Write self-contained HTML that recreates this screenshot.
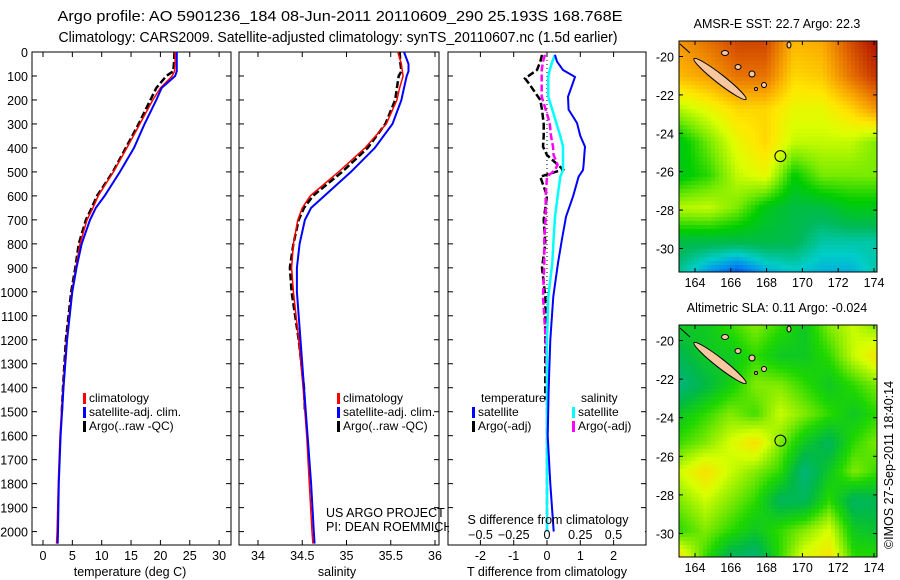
<!DOCTYPE html>
<html><head><meta charset="utf-8"><style>
html,body{margin:0;padding:0;background:#fff;}
svg{display:block;font-family:"Liberation Sans",sans-serif;}
</style></head><body>
<svg id="fig" width="900" height="580" viewBox="0 0 900 580" xmlns="http://www.w3.org/2000/svg">
<text x="340" y="21" font-size="15" text-anchor="middle" textLength="565" lengthAdjust="spacingAndGlyphs">Argo profile: AO 5901236_184 08-Jun-2011 20110609_290 25.193S 168.768E</text>
<text x="338" y="42" font-size="14.5" text-anchor="middle" textLength="559" lengthAdjust="spacingAndGlyphs">Climatology: CARS2009. Satellite-adjusted climatology: synTS_20110607.nc (1.5d earlier)</text>
<g id="p1"></g>
<g id="p2"></g>
<g id="p3"></g>
<g id="m1"></g>
<g id="m2"></g>
<text transform="translate(893,465) rotate(-90)" font-size="12.5" text-anchor="middle">©IMOS 27-Sep-2011 18:40:14</text>
</svg>
<script>
// ---- data ----
const depthTicks=[0,100,200,300,400,500,600,700,800,900,1000,1100,1200,1300,1400,1500,1600,1700,1800,1900,2000];
const tempTicks=[0,5,10,15,20,25,30];
const salTicks=[34,34.5,35,35.5,36];
const sTickLabels=[-0.5,-0.25,0,0.25,0.5];
const tTickLabels=[-2,-1,0,1,2];
const depthClim=[0,50,80,100,150,200,300,400,500,600,650,700,800,900,1000,1200,1400,1600,1800,2000,2050];
const tempClim=[22.5,22.5,22.4,22.0,20.0,18.7,16.5,14.3,12.0,9.4,8.5,7.5,6.3,5.6,4.9,4.0,3.4,2.9,2.6,2.4,2.3];
const tempSat=[22.8,22.8,22.8,22.5,20.2,19.3,17.3,15.5,13.1,10.5,9.0,8.0,6.6,5.7,5.0,4.1,3.5,3.0,2.7,2.55,2.5];
const salClim=[35.58,35.62,35.63,35.64,35.6,35.57,35.45,35.21,34.91,34.59,34.5,34.45,34.40,34.38,34.40,34.46,34.51,34.55,34.58,34.61,34.62];
const salSat=[35.65,35.70,35.70,35.68,35.65,35.62,35.52,35.32,35.05,34.75,34.6,34.53,34.47,34.44,34.44,34.48,34.52,34.56,34.60,34.63,34.64];
const depthArgo=[0,50,80,100,150,200,300,400,500,600,650,700,800,900,1000,1200,1400,1500];
const tempArgo=[22.4,22.3,22.2,21.0,19.3,18.3,16.3,14.1,11.9,9.2,8.3,7.3,6.1,5.5,4.8,3.9,3.4,3.2];
const salArgo=[35.60,35.61,35.62,35.59,35.57,35.55,35.44,35.24,34.95,34.62,34.52,34.46,34.40,34.36,34.38,34.46,34.52,34.53];
const depthDiff=[12,40,75,104,140,187,240,296,350,395,430,470,492,520,603,687,780,880,1020,1200,1400,1600,1800,2000];
const dTsat=[0.24,0.3,0.48,0.84,0.75,0.63,0.65,0.9,1.0,1.14,1.12,1.1,1.08,0.95,0.78,0.57,0.45,0.33,0.19,0.1,0.05,0.02,0.1,0.2];
const dSsat=[0.06,0.04,0.02,0.01,0.01,0.01,0.04,0.07,0.1,0.12,0.12,0.12,0.12,0.1,0.08,0.06,0.05,0.04,0.01,0.0,0.0,0.0,0.0,0.0];
const dSargo=[-0.015,-0.03,-0.04,-0.04,-0.04,-0.04,-0.01,0.02,0.03,0.045,0.05,0.08,0.06,0.0,-0.01,-0.01,-0.02,-0.02,-0.03,-0.01,0.0,0.0,0.0,0.0];
const depthDiffArgo=[12,40,75,110,130,200,240,300,350,395,430,490,520,600,700,800,900,1020,1200,1450];
const dTargo=[-0.15,-0.2,-0.3,-0.66,-0.55,-0.2,-0.15,-0.1,-0.1,-0.12,0.0,0.48,-0.2,0.0,-0.1,-0.05,-0.15,-0.05,-0.05,-0.05];
const latTicks=[-20,-22,-24,-26,-28,-30];
const lonTicks=[164,166,168,170,172,174];
const sstGrid=[
[.75,.8,.86,.86,.7,.72,.85,.95],
[.7,.74,.8,.8,.66,.68,.8,.9],
[.55,.6,.66,.66,.6,.6,.66,.76],
[.4,.5,.6,.66,.56,.56,.56,.5],
[.4,.45,.56,.6,.42,.5,.5,.5],
[.55,.56,.5,.4,.36,.36,.4,.4],
[.36,.36,.36,.36,.35,.3,.3,.3],
[.3,.22,.16,.24,.27,.25,.25,.3]];
const slaGrid=[
[.4,.4,.45,.5,.45,.4,.5,.55,.5],
[.35,.4,.4,.45,.4,.4,.45,.55,.62],
[.3,.36,.42,.5,.5,.45,.4,.45,.5],
[.4,.45,.5,.46,.55,.5,.45,.4,.45],
[.46,.5,.56,.62,.5,.4,.34,.45,.5],
[.56,.62,.55,.5,.45,.3,.4,.5,.45],
[.5,.55,.5,.45,.34,.34,.45,.33,.35],
[.45,.5,.45,.4,.45,.5,.56,.4,.38],
[.62,.45,.33,.3,.45,.58,.62,.45,.45]];

// ---- helpers ----
const NS="http://www.w3.org/2000/svg";
function mk(parent,tag,attrs,txt){const e=document.createElementNS(NS,tag);for(const k in attrs)e.setAttribute(k,attrs[k]);if(txt!==undefined)e.textContent=txt;parent.appendChild(e);return e;}
const Y0=52,YS=0.2398,BOT=545;
const yD=d=>Y0+d*YS;
const xT=t=>43+t*5.87;
const xS=s=>258+(s-34)*88.5;
const xdT=v=>547+v*33.3;
const xdS=v=>547+v*133;
function line(g,xs,ys,fx,color,w,dash,name){
  const pts=xs.map((v,i)=>fx(v).toFixed(1)+","+yD(ys[i]).toFixed(1)).join(" ");
  const p=mk(g,"polyline",{points:pts,fill:"none",stroke:color,"stroke-width":w});
  if(dash)p.setAttribute("stroke-dasharray",dash);
  
  
}
function frame(g,x0,x1,name){
  const r=mk(g,"rect",{x:x0,y:Y0,width:x1-x0,height:BOT-Y0,fill:"none",stroke:"#000","stroke-width":1});
  
  
  depthTicks.forEach(d=>{mk(g,"line",{x1:x0,x2:x0+5,y1:yD(d),y2:yD(d),stroke:"#000"});mk(g,"line",{x1:x1-5,x2:x1,y1:yD(d),y2:yD(d),stroke:"#000"});});
}
function legendEntry(g,x,y,color,label,name){
  mk(g,"rect",{x:x,y:y-9,width:3,height:11,fill:color});
  const t=mk(g,"text",{x:x+6,y:y,"font-size":12},label);
  
  
}

// ---- panel 1 ----
const p1=document.getElementById("p1");
frame(p1,32,231,"temperature-plot-frame");
depthTicks.forEach(d=>{const t=mk(p1,"text",{x:28,y:yD(d)+5,"font-size":12.5,"text-anchor":"end"},String(d));
 });
tempTicks.forEach(v=>{mk(p1,"line",{x1:xT(v),x2:xT(v),y1:Y0,y2:Y0+5,stroke:"#000"});mk(p1,"line",{x1:xT(v),x2:xT(v),y1:BOT-5,y2:BOT,stroke:"#000"});
 const t=mk(p1,"text",{x:xT(v),y:560,"font-size":12.5,"text-anchor":"middle"},String(v));
 });
const xt1=mk(p1,"text",{x:130,y:576,"font-size":12.5,"text-anchor":"middle"},"temperature (deg C)");

line(p1,tempArgo,depthArgo,xT,"#000",2.5,"7,3","temperature-argo-line");
line(p1,tempClim,depthClim,xT,"#f00",1.5,null,"temperature-climatology-line");
line(p1,tempSat,depthClim,xT,"#00f",2,null,"temperature-satellite-line");
legendEntry(p1,83,402,"#f00","climatology","legend-climatology");
legendEntry(p1,83,416,"#00f","satellite-adj. clim.","legend-satellite");
legendEntry(p1,83,430,"#000","Argo(..raw -QC)","legend-argo");

// ---- panel 2 ----
const p2=document.getElementById("p2");
frame(p2,239,439,"salinity-plot-frame");
salTicks.forEach(v=>{mk(p2,"line",{x1:xS(v),x2:xS(v),y1:Y0,y2:Y0+5,stroke:"#000"});mk(p2,"line",{x1:xS(v),x2:xS(v),y1:BOT-5,y2:BOT,stroke:"#000"});
 const t=mk(p2,"text",{x:xS(v),y:560,"font-size":12.5,"text-anchor":"middle"},String(v));
 });
const xt2=mk(p2,"text",{x:337,y:576,"font-size":12.5,"text-anchor":"middle"},"salinity");

line(p2,salArgo,depthArgo,xS,"#000",2.5,"7,3","salinity-argo-line");
line(p2,salClim,depthClim,xS,"#f00",1.5,null,"salinity-climatology-line");
line(p2,salSat,depthClim,xS,"#00f",2,null,"salinity-satellite-line");
legendEntry(p2,337,402,"#f00","climatology","legend-climatology");
legendEntry(p2,337,416,"#00f","satellite-adj. clim.","legend-satellite");
legendEntry(p2,337,430,"#000","Argo(..raw -QC)","legend-argo");
const c1=mk(p2,"text",{x:326,y:517,"font-size":12.5},"US ARGO PROJECT");
const c2=mk(p2,"text",{x:326,y:531,"font-size":12.5},"PI: DEAN ROEMMICH");

// ---- panel 3 ----
const p3=document.getElementById("p3");
frame(p3,448,646,"difference-plot-frame");
mk(p3,"rect",{x:449,y:510,width:196,height:30,fill:"#fff"});
tTickLabels.forEach(v=>{mk(p3,"line",{x1:xdT(v),x2:xdT(v),y1:Y0,y2:Y0+5,stroke:"#000"});mk(p3,"line",{x1:xdT(v),x2:xdT(v),y1:BOT-5,y2:BOT,stroke:"#000"});
 const t=mk(p3,"text",{x:xdT(v),y:560,"font-size":12.5,"text-anchor":"middle"},String(v));
 });
mk(p3,"line",{x1:547,x2:547,y1:yD(0),y2:yD(1450),stroke:"#000","stroke-dasharray":"1,3"});
line(p3,dTargo,depthDiffArgo,xdT,"#000",2.5,"7,3","t-argo-difference-line");
line(p3,dSargo,depthDiff,xdS,"#f0f",2.5,"7,3","s-argo-difference-line");
line(p3,dSsat,depthDiff,xdS,"#0ff",2.5,null,"s-satellite-difference-line");
line(p3,dTsat,depthDiff,xdT,"#00f",2,null,"t-satellite-difference-line");
const st=mk(p3,"text",{x:548,y:524,"font-size":12.5,"text-anchor":"middle"},"S difference from climatology");

sTickLabels.forEach(v=>{const t=mk(p3,"text",{x:xdS(v),y:539,"font-size":12.5,"text-anchor":"middle"},String(v).replace("-","\u2212"));
 });
const tt=mk(p3,"text",{x:547,y:576,"font-size":12.5,"text-anchor":"middle"},"T difference from climatology");

const lh1=mk(p3,"text",{x:481,y:402,"font-size":12},"temperature");
const lh2=mk(p3,"text",{x:581,y:402,"font-size":12},"salinity");
legendEntry(p3,472,416,"#00f","satellite","legend-t-satellite");
legendEntry(p3,472,430,"#000","Argo(-adj)","legend-t-argo");
legendEntry(p3,572,416,"#0ff","satellite","legend-s-satellite");
legendEntry(p3,572,430,"#f0f","Argo(-adj)","legend-s-argo");

// ---- maps ----
const sstStops=[[0.15,[0,70,220]],[0.22,[0,140,240]],[0.28,[0,205,200]],[0.34,[0,185,90]],[0.42,[0,205,0]],[0.5,[120,235,0]],[0.58,[220,255,0]],[0.64,[255,230,0]],[0.72,[250,170,0]],[0.82,[225,100,0]],[0.95,[170,10,0]]];
const slaStops=[[0.28,[0,180,140]],[0.36,[0,185,70]],[0.44,[30,215,0]],[0.5,[130,235,0]],[0.56,[215,255,0]],[0.62,[250,225,0]],[0.7,[245,180,0]]];
function cmap(v,stops){
  if(v<=stops[0][0])return stops[0][1];
  for(let i=1;i<stops.length;i++){if(v<=stops[i][0]){const a=stops[i-1],b=stops[i],f=(v-a[0])/(b[0]-a[0]);return a[1].map((c,k)=>Math.round(c+(b[1][k]-c)*f));}}
  return stops[stops.length-1][1];
}
function sample(grid,u,v){
  const R=grid.length-1,C=grid[0].length-1;const y=v*R,x=u*C;const i=Math.min(Math.floor(y),R-1),j=Math.min(Math.floor(x),C-1);const fy=y-i,fx=x-j;
  return grid[i][j]*(1-fx)*(1-fy)+grid[i][j+1]*fx*(1-fy)+grid[i+1][j]*(1-fx)*fy+grid[i+1][j+1]*fx*fy;
}
function drawMap(g,top,bot,grid,stops,title,name){
  const L=679,Rr=877;
  const lonX=lo=>695+(lo-164)*17.9;
  const lat20=top+15.5;
  const yLat=la=>lat20+(-20-la)*((bot-top)-39)/10;
  const cs=4;
  const cells=mk(g,"g",{});
  
  
  for(let y=top;y<bot;y+=cs){for(let x=L;x<Rr;x+=cs){
    const c=cmap(sample(grid,(x-L)/(Rr-L),(y-top)/(bot-top)),stops);
    mk(cells,"rect",{x:x,y:y,width:Math.min(cs,Rr-x)+0.3,height:Math.min(cs,bot-y)+0.3,fill:`rgb(${c[0]},${c[1]},${c[2]})`});
  }}
  const isl=mk(g,"g",{fill:"#f7c8a0",stroke:"#000","stroke-width":1});
  
  
  const cx=720, cy=top+38;
  mk(isl,"ellipse",{cx:cx,cy:cy,rx:33,ry:4.5,transform:`rotate(38 ${cx} ${cy})`});
  mk(isl,"line",{x1:680,y1:top+3,x2:690,y2:top+12,stroke:"#000"});
  [[725,12,3.5,2.5],[738,26,3,2.5],[752,33,3,3],[764,44,2.5,2.5],[789,4,2,3],[756,48,1.5,1.5]].forEach(a=>mk(isl,"ellipse",{cx:a[0],cy:top+a[1],rx:a[2],ry:a[3]}));
  const circ=mk(g,"circle",{cx:lonX(168.77),cy:yLat(-25.19),r:5.5,fill:"none",stroke:"#000","stroke-width":1});
  
  
  const fr=mk(g,"rect",{x:L,y:top,width:Rr-L,height:bot-top,fill:"none",stroke:"#000"});
  
  
  latTicks.forEach(la=>{const y=yLat(la);mk(g,"line",{x1:L,x2:L+4,y1:y,y2:y,stroke:"#000"});mk(g,"line",{x1:Rr-4,x2:Rr,y1:y,y2:y,stroke:"#000"});
    const t=mk(g,"text",{x:674,y:y+5,"font-size":12.5,"text-anchor":"end"},String(la));
    });
  lonTicks.forEach(lo=>{const x=lonX(lo);mk(g,"line",{x1:x,x2:x,y1:top,y2:top+4,stroke:"#000"});mk(g,"line",{x1:x,x2:x,y1:bot-4,y2:bot,stroke:"#000"});
    const t=mk(g,"text",{x:x,y:bot+15,"font-size":12.5,"text-anchor":"middle"},String(lo));
    });
  const ti=mk(g,"text",{x:777,y:top-13,"font-size":12.5,"text-anchor":"middle"},title);
  
  
}
drawMap(document.getElementById("m1"),41,272,sstGrid,sstStops,"AMSR-E SST: 22.7 Argo: 22.3","sst-map");
drawMap(document.getElementById("m2"),325,557,slaGrid,slaStops,"Altimetric SLA: 0.11 Argo: -0.024","sla-map");
</script>
</body></html>
